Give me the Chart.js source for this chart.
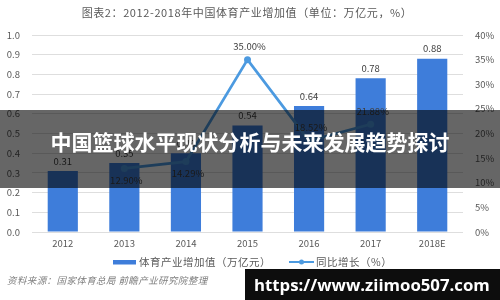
<!DOCTYPE html>
<html>
<head>
<meta charset="utf-8">
<script src="https://cdn.jsdelivr.net/npm/chart.js@4.4.1/dist/chart.umd.min.js"></script>
<style>
  html, body { margin: 0; padding: 0; background: #ffffff; }
  #wrap { width: 500px; height: 300px; position: relative; }
</style>
</head>
<body>
<div id="wrap"><canvas id="c" width="500" height="300"></canvas></div>
<script>
// 2012-2018 sports industry added value (trillion yuan) and YoY growth (%)
const years = ['2012', '2013', '2014', '2015', '2016', '2017', '2018E'];
const addedValue = [0.31, 0.35, 0.40, 0.54, 0.64, 0.78, 0.88];
const growthRate = [null, 12.90, 14.29, 35.00, 18.52, 21.88, null];
const leftTicks = [0, 0.1, 0.2, 0.3, 0.4, 0.5, 0.6, 0.7, 0.8, 0.9, 1.0];
const rightTicks = [0, 5, 10, 15, 20, 25, 30, 35, 40];
// growth labels drawn under their point instead of above
const growthLabelBelow = [false, true, true, false, false, false, false];

const chartTitle = '图表2：2012-2018年中国体育产业增加值（单位：万亿元，%）';
const barLabel = '体育产业增加值（万亿元）';
const lineLabel = '同比增长（%）';
const sourceNote = '资料来源：国家体育总局 前瞻产业研究院整理';
const bannerTitle = '中国篮球水平现状分析与未来发展趋势探讨';
const siteUrl = 'https://www.ziimoo507.com';

const CJK = '"Noto Sans CJK SC", "Noto Sans", sans-serif';
const BAR_COLOR = 'rgb(62,125,218)';
const LINE_COLOR = 'rgb(76,154,224)';
const TEXT_GRAY = '#595959';

function spacing(ctx, px) {
  if ('letterSpacing' in ctx) ctx.letterSpacing = px + 'px';
}

const overlayPlugin = {
  id: 'overlay',
  afterDatasetsDraw(chart) {
    const ctx = chart.ctx;
    ctx.save();
    ctx.fillStyle = '#404040';
    ctx.font = '9.5px ' + CJK;
    ctx.textAlign = 'center';
    ctx.textBaseline = 'middle';
    // value labels on bars
    const barMeta = chart.getDatasetMeta(0);
    barMeta.data.forEach((el, i) => {
      const v = addedValue[i];
      if (v == null) return;
      ctx.fillText(v.toFixed(2), el.x, el.y - 10);
    });
    // percentage labels on line points
    const lineMeta = chart.getDatasetMeta(1);
    lineMeta.data.forEach((el, i) => {
      const v = growthRate[i];
      if (v == null) return;
      const dy = growthLabelBelow[i] ? 12 : -13;
      ctx.fillText(v.toFixed(2) + '%', el.x + 2, el.y + dy);
    });
    ctx.restore();
  },
  afterDraw(chart) {
    const ctx = chart.ctx;
    ctx.save();

    // chart heading
    ctx.fillStyle = TEXT_GRAY;
    ctx.font = '11px ' + CJK;
    ctx.textAlign = 'center';
    ctx.textBaseline = 'middle';
    spacing(ctx, 0.6);
    ctx.fillText(chartTitle, 247, 13);

    // legend
    const ly = 262;
    ctx.fillStyle = BAR_COLOR;
    ctx.fillRect(113, ly - 2, 23, 4.5);
    ctx.fillStyle = TEXT_GRAY;
    ctx.font = '10.5px ' + CJK;
    ctx.textAlign = 'left';
    spacing(ctx, 0.5);
    ctx.fillText(barLabel, 139, ly);
    ctx.strokeStyle = LINE_COLOR;
    ctx.lineWidth = 2;
    ctx.beginPath();
    ctx.moveTo(289, ly);
    ctx.lineTo(314, ly);
    ctx.stroke();
    ctx.fillStyle = LINE_COLOR;
    ctx.beginPath();
    ctx.arc(301.5, ly, 2.5, 0, Math.PI * 2);
    ctx.fill();
    ctx.fillStyle = TEXT_GRAY;
    ctx.fillText(lineLabel, 316, ly);

    // source note
    ctx.fillStyle = '#7f7f7f';
    ctx.font = 'italic 9.5px ' + CJK;
    spacing(ctx, 0.4);
    ctx.fillText(sourceNote, 7, 280);
    spacing(ctx, 0);

    // dark banner with headline
    ctx.fillStyle = 'rgba(0,0,0,0.6)';
    ctx.fillRect(0, 110, 500, 78);
    ctx.fillStyle = '#ffffff';
    ctx.font = 'bold 21px ' + CJK;
    ctx.textAlign = 'center';
    ctx.fillText(bannerTitle, 250, 142);

    // site address strip, text sized to fit the strip
    ctx.fillStyle = '#0d0d0d';
    ctx.fillRect(245, 269, 255, 31);
    ctx.fillStyle = '#ffffff';
    const urlFamily = '"Open Sans", "Noto Sans", sans-serif';
    ctx.font = 'bold 20px ' + urlFamily;
    const w = ctx.measureText(siteUrl).width;
    const size = Math.min(20, 20 * 236 / w);
    ctx.font = 'bold ' + size.toFixed(2) + 'px ' + urlFamily;
    ctx.textAlign = 'left';
    ctx.fillText(siteUrl, 254, 286);

    ctx.restore();
  }
};

new Chart(document.getElementById('c'), {
  data: {
    labels: years,
    datasets: [
      {
        type: 'bar',
        label: barLabel,
        data: addedValue,
        yAxisID: 'y',
        backgroundColor: BAR_COLOR,
        barPercentage: 0.49,
        categoryPercentage: 1.0,
        order: 1
      },
      {
        type: 'line',
        label: lineLabel,
        data: growthRate,
        yAxisID: 'y1',
        borderColor: LINE_COLOR,
        backgroundColor: LINE_COLOR,
        borderWidth: 2.8,
        pointRadius: 3.5,
        pointBorderWidth: 0,
        pointBackgroundColor: LINE_COLOR,
        tension: 0,
        spanGaps: false,
        order: 0
      }
    ]
  },
  options: {
    responsive: false,
    animation: false,
    layout: { padding: { top: 35, left: 0, right: 0, bottom: 0 } },
    plugins: {
      legend: { display: false },
      title: { display: false },
      tooltip: { enabled: false }
    },
    scales: {
      x: {
        type: 'category',
        grid: { display: false, drawTicks: false },
        border: { display: false },
        ticks: {
          color: TEXT_GRAY,
          font: { family: CJK, size: 9.5 },
          padding: 6
        },
        afterFit(s) { s.height = 68; }
      },
      y: {
        type: 'linear',
        position: 'left',
        min: 0,
        max: 1.0,
        afterBuildTicks(s) { s.ticks = leftTicks.map(v => ({ value: v })); },
        grid: { color: '#dedede', lineWidth: 1, drawTicks: false },
        border: { display: false },
        ticks: {
          color: TEXT_GRAY,
          font: { family: CJK, size: 9.5 },
          padding: 12,
          callback: v => Number(v).toFixed(1)
        },
        afterFit(s) { s.width = 32; }
      },
      y1: {
        type: 'linear',
        position: 'right',
        min: 0,
        max: 40,
        afterBuildTicks(s) { s.ticks = rightTicks.map(v => ({ value: v })); },
        grid: { display: false, drawTicks: false },
        border: { display: false },
        ticks: {
          color: TEXT_GRAY,
          font: { family: CJK, size: 9.5 },
          padding: 12,
          callback: v => v + '%'
        },
        afterFit(s) { s.width = 37; }
      }
    }
  },
  plugins: [overlayPlugin]
});
</script>
</body>
</html>
